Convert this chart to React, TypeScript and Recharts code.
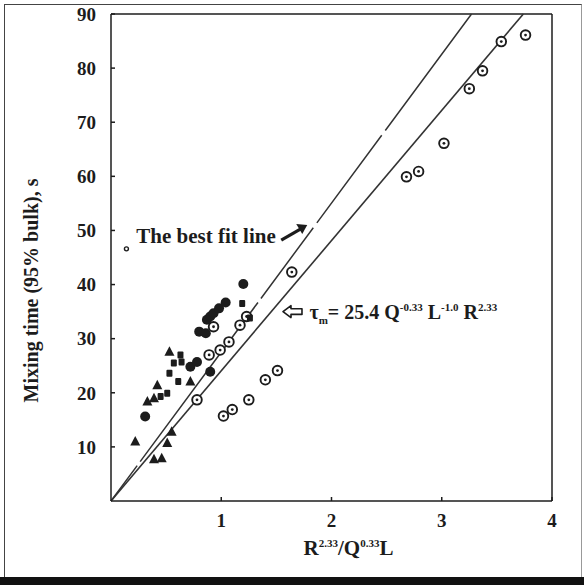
import { ScatterChart, Scatter, XAxis, YAxis, ReferenceLine, ReferenceDot } from "recharts";

const FONT = '"Liberation Serif", "Times New Roman", serif';
const INK = "#1c1c1c";

const xTicks = [1, 2, 3, 4];
const yTicks = [10, 20, 30, 40, 50, 60, 70, 80, 90];

// filled triangles
const triangles = [
  { x: 0.22, y: 11.0 },
  { x: 0.33, y: 18.4 },
  { x: 0.39, y: 19.0 },
  { x: 0.42, y: 21.4 },
  { x: 0.53, y: 27.6 },
  { x: 0.72, y: 22.1 },
  { x: 0.39, y: 7.7 },
  { x: 0.46, y: 7.9 },
  { x: 0.51, y: 10.7 },
  { x: 0.55, y: 12.8 },
];

// small filled squares
const squares = [
  { x: 0.45, y: 19.3 },
  { x: 0.51, y: 19.9 },
  { x: 0.53, y: 23.6 },
  { x: 0.61, y: 22.1 },
  { x: 0.57, y: 25.5 },
  { x: 0.64, y: 25.7 },
  { x: 0.63, y: 27.0 },
  { x: 1.19, y: 36.5 },
  { x: 1.26, y: 33.8 },
];

// filled circles
const filledCircles = [
  { x: 0.31, y: 15.6 },
  { x: 0.72, y: 24.8 },
  { x: 0.78, y: 25.7 },
  { x: 0.9, y: 23.9 },
  { x: 0.8, y: 31.3 },
  { x: 0.86, y: 31.0 },
  { x: 0.87, y: 33.5 },
  { x: 0.9, y: 34.1 },
  { x: 0.93, y: 34.7 },
  { x: 0.98, y: 35.6 },
  { x: 1.04, y: 36.7 },
  { x: 1.2, y: 40.1 },
];

// open circles with a centre dot
const dottedCircles = [
  { x: 0.78, y: 18.7 },
  { x: 0.89, y: 27.0 },
  { x: 0.99, y: 27.9 },
  { x: 1.07, y: 29.4 },
  { x: 0.93, y: 32.2 },
  { x: 1.17, y: 32.5 },
  { x: 1.23, y: 34.1 },
  { x: 1.64, y: 42.3 },
  { x: 1.02, y: 15.7 },
  { x: 1.1, y: 16.9 },
  { x: 1.25, y: 18.7 },
  { x: 1.4, y: 22.4 },
  { x: 1.51, y: 24.1 },
  { x: 2.68, y: 59.9 },
  { x: 2.79, y: 60.9 },
  { x: 3.02, y: 66.1 },
  { x: 3.25, y: 76.2 },
  { x: 3.37, y: 79.5 },
  { x: 3.54, y: 84.9 },
  { x: 3.76, y: 86.1 },
];

// lines through the origin
const bestFitLine = [{ x: 0, y: 0 }, { x: 3.27, y: 90 }];
const modelLine = [{ x: 0, y: 0 }, { x: 3.74, y: 90 }];

// annotation anchors (data coords)
const fitLabelPos = { x: 0.23, y: 47.7 };
const fitArrowHead = { x: 1.78, y: 51.0 };
const strayMark = { x: 0.14, y: 46.6 };
const eqArrowTip = { x: 1.56, y: 35.0 };
const eqLabelPos = { x: 1.8, y: 33.6 };

function Triangle(props: any) {
  const { cx, cy } = props;
  if (cx == null || cy == null) return null;
  return <polygon points={`${cx},${cy - 5.5} ${cx - 5},${cy + 4} ${cx + 5},${cy + 4}`} fill={INK} />;
}

function Square(props: any) {
  const { cx, cy } = props;
  if (cx == null || cy == null) return null;
  return <rect x={cx - 3} y={cy - 3.5} width={6} height={7} rx={1} fill={INK} />;
}

function FilledDot(props: any) {
  const { cx, cy } = props;
  if (cx == null || cy == null) return null;
  return <circle cx={cx} cy={cy} r={5} fill={INK} />;
}

function DottedCircle(props: any) {
  const { cx, cy } = props;
  if (cx == null || cy == null) return null;
  return (
    <g>
      <circle cx={cx} cy={cy} r={4.8} fill="#fff" stroke={INK} strokeWidth={1.9} />
      <circle cx={cx} cy={cy} r={1.4} fill={INK} />
    </g>
  );
}

function YLabel(props: any) {
  const vb = props.viewBox;
  const x = vb.x + 30;
  const y = vb.y + vb.height / 2 + 33;
  return (
    <text
      x={x}
      y={y}
      transform={`rotate(-90 ${x} ${y})`}
      textAnchor="middle"
      dominantBaseline="central"
      fontFamily={FONT}
      fontWeight="bold"
      fontSize={20}
      fill={INK}
    >
      Mixing time (95% bulk), s
    </text>
  );
}

function XLabel(props: any) {
  const vb = props.viewBox;
  const x = vb.x + vb.width / 2 + 17;
  const y = vb.y + 54;
  return (
    <text x={x} y={y} textAnchor="middle" fontFamily={FONT} fontWeight="bold" fontSize={21} fill={INK}>
      R<tspan fontSize={11} dy={-8}>2.33</tspan>
      <tspan dy={8}>/Q</tspan>
      <tspan fontSize={11} dy={-8}>0.33</tspan>
      <tspan dy={8}>L</tspan>
    </text>
  );
}

function FitLabel(props: any) {
  const { cx, cy } = props;
  return (
    <text x={cx} y={cy} fontFamily={FONT} fontWeight="bold" fontSize={21} fill={INK}>
      The best fit line
    </text>
  );
}

function FilledArrow(props: any) {
  const { cx, cy } = props;
  return (
    <g>
      <line x1={cx - 26} y1={cy + 15} x2={cx - 6} y2={cy + 3.5} stroke={INK} strokeWidth={3.2} />
      <polygon points={`${cx},${cy} ${cx - 11},${cy - 1} ${cx - 5},${cy + 9}`} fill={INK} />
    </g>
  );
}

function StrayMark(props: any) {
  const { cx, cy } = props;
  return <circle cx={cx} cy={cy} r={2} fill="#fff" stroke={INK} strokeWidth={1.4} />;
}

function HollowArrow(props: any) {
  const { cx, cy } = props;
  const pts = [
    [0, 0], [8, -6], [8, -2.8], [19, -2.8], [19, 2.8], [8, 2.8], [8, 6],
  ].map(([dx, dy]) => `${cx + dx},${cy + dy}`).join(" ");
  return <polygon points={pts} fill="#fff" stroke={INK} strokeWidth={1.6} strokeLinejoin="round" />;
}

function EqLabel(props: any) {
  const { cx, cy } = props;
  return (
    <text x={cx} y={cy} fontFamily={FONT} fontWeight="bold" fontSize={20} fill={INK}>
      τ<tspan fontSize={11} dy={5}>m</tspan>
      <tspan dy={-5}>= 25.4 Q</tspan>
      <tspan fontSize={11} dy={-8}>-0.33</tspan>
      <tspan dy={8}> L</tspan>
      <tspan fontSize={11} dy={-8}>-1.0</tspan>
      <tspan dy={8}> R</tspan>
      <tspan fontSize={11} dy={-8}>2.33</tspan>
    </text>
  );
}

const tickStyle = { fill: INK, fontSize: 19, fontWeight: "bold", fontFamily: FONT };

export default function App() {
  return (
    <div style={{ position: "absolute", left: 0, top: 0, width: 584, height: 585, background: "#fff", overflow: "hidden" }}>
      <div style={{ position: "absolute", left: 4, top: 4, width: 576, height: 574, borderTop: "1.5px solid #444", borderLeft: "1.5px solid #444", borderRight: "1px solid #999" }} />
      <div style={{ position: "absolute", left: 0, top: 577, width: 584, height: 8, background: "#111" }} />
      <div style={{ position: "absolute", left: 0, top: 0 }}>
        <ScatterChart width={584} height={585} margin={{ top: 14, right: 32, bottom: 34, left: 1 }}>
          <XAxis
            type="number"
            dataKey="x"
            domain={[0, 4]}
            ticks={xTicks}
            allowDataOverflow
            stroke={INK}
            strokeWidth={1.5}
            tickSize={-4}
            tickMargin={17}
            tick={tickStyle}
            height={50}
            label={{ content: (p: any) => <XLabel {...p} /> }}
          />
          <YAxis
            type="number"
            dataKey="y"
            domain={[0, 90]}
            ticks={yTicks}
            allowDataOverflow
            stroke={INK}
            strokeWidth={1.5}
            tickSize={-4}
            tickMargin={19}
            tick={tickStyle}
            width={110}
            label={{ content: (p: any) => <YLabel {...p} /> }}
          />
          <ReferenceLine y={90} stroke={INK} strokeWidth={1.5} />
          <ReferenceLine x={4} stroke={INK} strokeWidth={1.5} />
          <ReferenceLine
            segment={bestFitLine}
            stroke="#333"
            strokeWidth={1.5}
            strokeDasharray="44 5 198 5 88 6 109 6 220"
          />
          <ReferenceLine segment={modelLine} stroke="#333" strokeWidth={1.6} />
          <Scatter data={dottedCircles} shape={(p: any) => <DottedCircle {...p} />} isAnimationActive={false} />
          <Scatter data={filledCircles} shape={(p: any) => <FilledDot {...p} />} isAnimationActive={false} />
          <Scatter data={triangles} shape={(p: any) => <Triangle {...p} />} isAnimationActive={false} />
          <Scatter data={squares} shape={(p: any) => <Square {...p} />} isAnimationActive={false} />
          <ReferenceDot x={fitLabelPos.x} y={fitLabelPos.y} shape={(p: any) => <FitLabel {...p} />} />
          <ReferenceDot x={fitArrowHead.x} y={fitArrowHead.y} shape={(p: any) => <FilledArrow {...p} />} />
          <ReferenceDot x={strayMark.x} y={strayMark.y} shape={(p: any) => <StrayMark {...p} />} />
          <ReferenceDot x={eqArrowTip.x} y={eqArrowTip.y} shape={(p: any) => <HollowArrow {...p} />} />
          <ReferenceDot x={eqLabelPos.x} y={eqLabelPos.y} shape={(p: any) => <EqLabel {...p} />} />
        </ScatterChart>
      </div>
    </div>
  );
}
